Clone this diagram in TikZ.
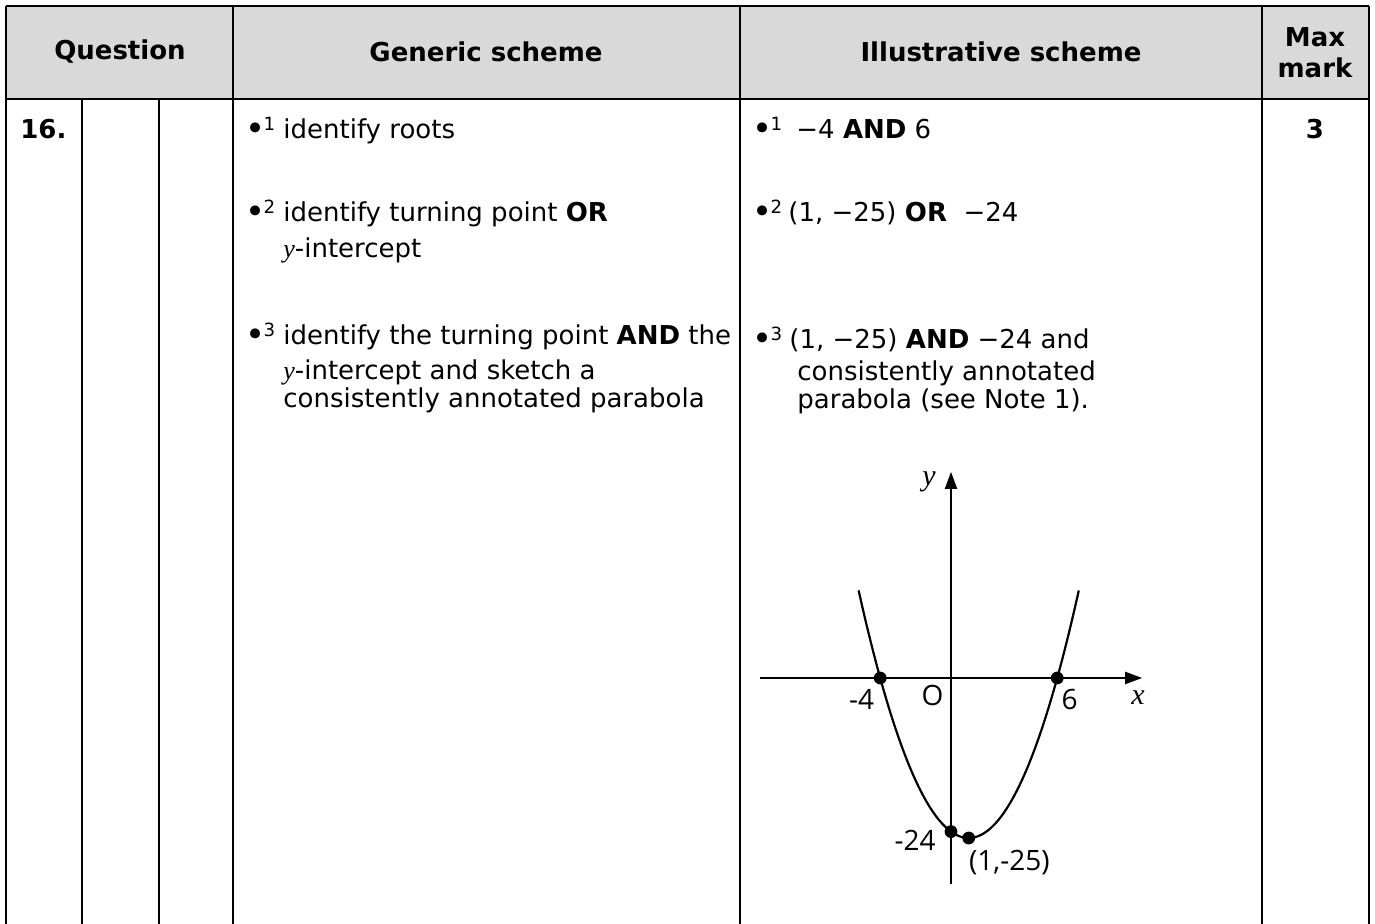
\documentclass[tikz,border=0pt]{standalone}
\usepackage{fontspec}
\setmainfont{DejaVu Sans}
\newfontfamily\graphfont{Open Sans}
\newfontfamily\varfont{Liberation Serif}
\usepackage{tikz}
\usetikzlibrary{positioning, arrows.meta, calc}
\definecolor{headgray}{HTML}{D9D9D9}
\newcommand{\vy}{{\varfont\itshape y}}
\newcommand{\bul}[1]{\raisebox{-1pt}{\fontsize{17}{17}\selectfont\textbullet}\kern-0.9pt\textsuperscript{#1}}

\begin{document}
\begin{tikzpicture}[x=0.5pt, y=-0.5pt, font=\fontsize{13}{15.5}\selectfont]
    \tikzset{
        rule/.style={line width=1.1pt, black},
        headtext/.style={font=\fontsize{13}{15.5}\selectfont\bfseries, align=center, inner sep=0},
        txt/.style={anchor=base west, inner sep=0},
        lbl/.style={font=\graphfont\fontsize{14}{15}\selectfont, inner sep=0},
        axislbl/.style={font=\varfont\itshape\fontsize{15}{16}\selectfont, inner sep=0},
        dot/.style={circle, fill=black, inner sep=0, minimum size=6.4pt},
        axis/.style={line width=1.1pt, -{Triangle[length=8.5pt, width=6pt]}}
    }
    \useasboundingbox (0,0) rectangle (1375,924);
    % header
    \fill[headgray] (6,6) rectangle (1369,99);
    \draw[rule] (6,6) -- (1369,6);
    \draw[rule] (6,99) -- (1369,99);
    \draw[rule] (6,6) -- (6,924);
    \draw[rule] (82,99) -- (82,924);
    \draw[rule] (159,99) -- (159,924);
    \draw[rule] (233,6) -- (233,924);
    \draw[rule] (740,6) -- (740,924);
    \draw[line width=0.6pt] (1262,6) -- (1262,99);
    \draw[rule] (1262,99) -- (1262,924);
    \draw[rule] (1369,6) -- (1369,924);
    \node[headtext] (hquestion) at (120,52) {Question};
    \node[headtext] (hgeneric) at (486,52) {Generic scheme};
    \node[headtext] (hillus) at (1001,52) {Illustrative scheme};
    \node[headtext] (hmax) at (1315,53) {Max\\mark};
    % question row
    \node[txt, font=\fontsize{13}{15.5}\selectfont\bfseries] (qnum) at (20,139) {16.};
    \node[anchor=base, inner sep=0, font=\fontsize{13}{15.5}\selectfont\bfseries] (qmark) at (1315,139) {3};
    % generic scheme
    \node[txt] (gb1) at (245,139) {\bul{1}};
    \node[txt] (g1) at (283,139) {identify roots};
    \node[txt] (gb2) at (245,222) {\bul{2}};
    \node[txt] (g2a) at (283,222) {identify turning point \textbf{OR}};
    \node[txt] (g2b) at (283,258) {\vy-intercept};
    \node[txt] (gb3) at (245,345) {\bul{3}};
    \node[txt] (g3a) at (283,345) {identify the turning point \textbf{AND} the};
    \node[txt] (g3b) at (283,380) {\vy-intercept and sketch a};
    \node[txt] (g3c) at (283,408) {consistently annotated parabola};
    % illustrative scheme
    \node[txt] (ib1) at (752,139) {\bul{1}};
    \node[txt] (i1) at (796,139) {−4 \textbf{AND} 6};
    \node[txt] (ib2) at (752,222) {\bul{2}};
    \node[txt] (i2) at (788,222) {(1, −25) \textbf{OR}\ \ −24};
    \node[txt] (ib3) at (752,349) {\bul{3}};
    \node[txt] (i3a) at (789,349) {(1, −25) \textbf{AND} −24 and};
    \node[txt] (i3b) at (797,381) {consistently annotated};
    \node[txt] (i3c) at (797,409) {parabola (see Note 1).};
    % sketch of the parabola
    \begin{scope}[shift={(951,678)}, x=8.85pt, y=3.2pt]
        \coordinate (xstart) at (-10.8,0);
        \coordinate (xend) at (10.8,0);
        \coordinate (ystart) at (0,-32.2);
        \coordinate (yend) at (0,32.2);
        \draw[axis] (xstart) -- (xend);
        \draw[axis] (ystart) -- (yend);
        \draw[line width=1.1pt, smooth, samples=80, domain=-5.22:7.22] plot (\x, {(\x+4)*(\x-6)});
        \node[dot] (rootL) at (-4,0) {};
        \node[dot] (rootR) at (6,0) {};
        \node[dot] (yint) at (0,-24) {};
        \node[dot] (vertex) at (1,-25) {};
        \node[lbl] (lrootL) at (-5.05,-3.4) {-4};
        \node[lbl] (lorigin) at (-1.05,-2.7) {O};
        \node[lbl] (lrootR) at (6.7,-3.4) {6};
        \node[lbl] (lyint) at (-2.03,-25.3) {-24};
        \node[lbl] (lvertex) at (3.3,-28.8) {(1,-25)};
        \node[axislbl] (ylbl) at (-1.24,30.6) {y};
        \node[axislbl] (xlbl) at (10.56,-3.1) {x};
    \end{scope}
\end{tikzpicture}
\end{document}
